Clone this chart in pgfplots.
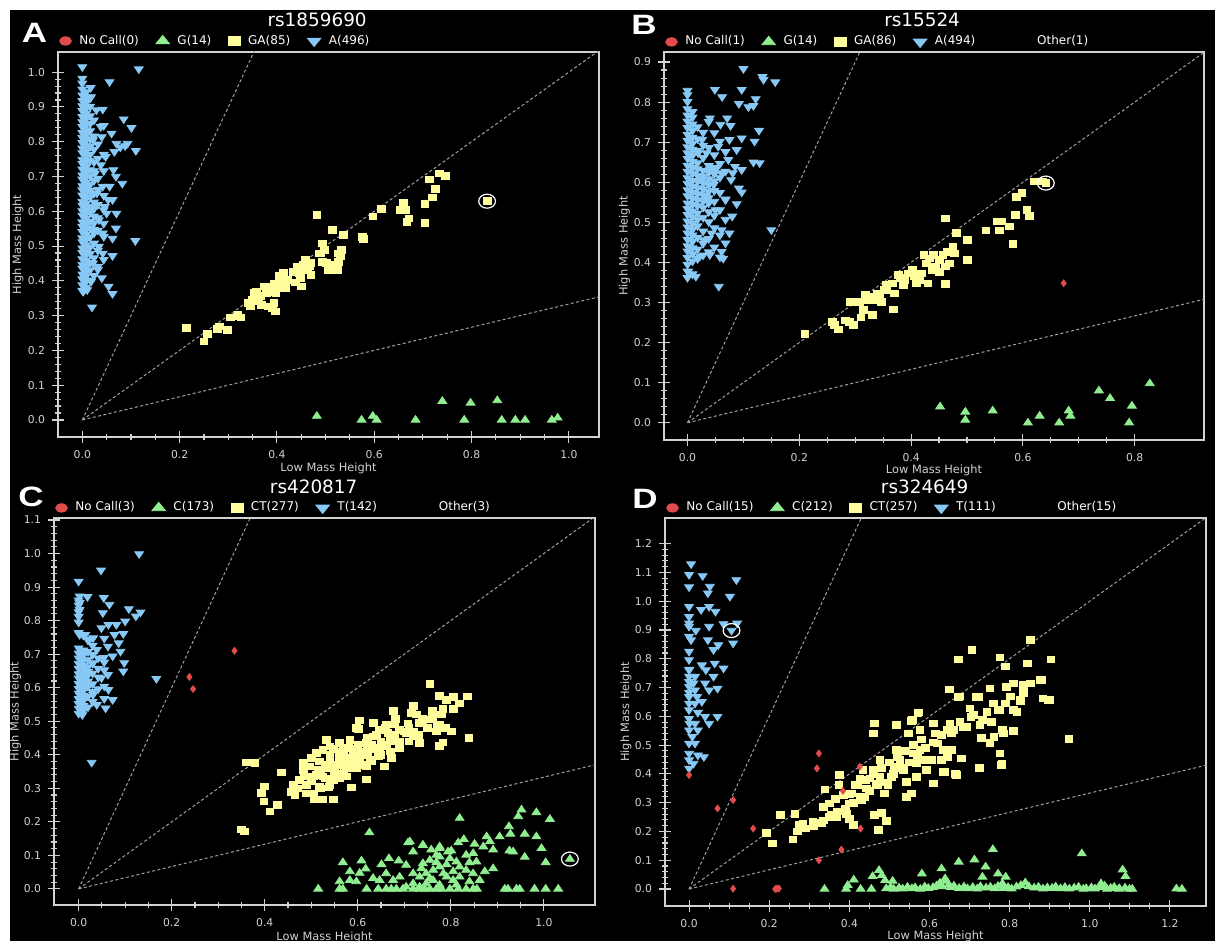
\documentclass[border=0pt]{standalone}
\usepackage{fontspec}
\setmainfont{DejaVu Sans}
\newfontfamily\letfont{Liberation Sans}
\usepackage{pgfplots}
\pgfplotsset{compat=1.18}
\definecolor{cblue}{RGB}{135,200,245}
\definecolor{cyel}{RGB}{255,253,155}
\definecolor{cgreen}{RGB}{144,238,144}
\definecolor{cred}{RGB}{225,75,75}
\definecolor{framegray}{RGB}{210,210,210}
\definecolor{dashgray}{RGB}{160,160,160}
\pgfplotsset{
 snp/.style={
  scale only axis, anchor=south west,
  axis line style={framegray, line width=0.75pt},
  tick pos=left, tick align=center,
  major tick length=6pt, minor tick length=3pt,
  tick style={framegray, line width=0.55pt},
  minor x tick num=3, minor y tick num=4,
  scaled ticks=false,
  /pgf/number format/fixed, /pgf/number format/fixed zerofill,
  /pgf/number format/precision=1, /pgf/number format/assume math mode=true,
  ticklabel style={font=\fontsize{5.4}{6}\selectfont, text=framegray},
  xlabel={Low Mass Height}, ylabel={High Mass Height},
  label style={font=\fontsize{5.7}{6}\selectfont, text=framegray},
  every axis title/.style={at={(0.5,1)}, anchor=center, font=\fontsize{9.2}{10}\selectfont, text=white},
  legend columns=-1,
  legend style={draw=none, fill=none, inner sep=0pt, outer sep=0pt, anchor=west,
    font=\fontsize{6}{7}\selectfont, text=white, nodes={inner sep=0.5pt},
    /tikz/every odd column/.append style={column sep=3.5pt},
    /tikz/every even column/.append style={column sep=8pt}},
  legend image code/.code={\draw[##1] plot coordinates {(0pt,0pt)};},
 },
 blu/.style={only marks, mark=triangle*, mark size=2.2pt, color=cblue, mark options={rotate=180, xscale=1.15}, forget plot},
 yel/.style={only marks, mark=square*, mark size=1.65pt, color=cyel, mark options={xscale=1.17}, forget plot},
 grn/.style={only marks, mark=triangle*, mark size=2.2pt, color=cgreen, mark options={xscale=1.15}, forget plot},
 rdd/.style={only marks, mark=diamond*, mark size=1.7pt, color=cred, forget plot},
 ring/.style={only marks, mark=o, mark size=3.5pt, color=white, mark options={xscale=1.2, line width=0.6pt}, forget plot},
 dl/.style={dashgray, dash pattern=on 1.5pt off 1.2pt, line width=0.5pt, forget plot},
 lgred/.style={only marks, mark=*, mark size=2.1pt, color=cred, mark options={xscale=1.4}},
 lggrn/.style={only marks, mark=triangle*, mark size=2.8pt, color=cgreen, mark options={xscale=1.4}},
 lgyel/.style={only marks, mark=square*, mark size=2.1pt, color=cyel, mark options={xscale=1.4}},
 lgblu/.style={only marks, mark=triangle*, mark size=2.8pt, color=cblue, mark options={rotate=180, xscale=1.4}},
 lgsp/.style={legend image code/.code={\path (0pt,-1pt) rectangle (18pt,1pt);}},
}
\begin{document}
\begin{tikzpicture}
\useasboundingbox (0,0) rectangle (607.5pt,471.5pt);
\fill[white] (0,0) rectangle (607.5pt,471.5pt);
\fill[black] (5pt,1pt) rectangle (607.5pt,466.5pt);

% ---------------- Panel A ----------------
\begin{axis}[snp, at={(29pt,253pt)}, width=270.5pt, height=192.5pt,
  xmin=-0.05, xmax=1.062, ymin=-0.049, ymax=1.058,
  xtick={0,0.2,0.4,0.6,0.8,1.0}, ytick={0,0.1,0.2,0.3,0.4,0.5,0.6,0.7,0.8,0.9,1.0},
  title={rs1859690}, title style={at={(axis description cs:0.479,1.083)}},
  xlabel style={at={(axis description cs:0.5,-0.0805)}, anchor=center},
  ylabel style={at={(axis description cs:-0.074,0.5)}, anchor=center},
  legend style={at={(axis description cs:0.003,1.0286)}}]
\addplot[dl] coordinates {(0,0) (2,6)};
\addplot[dl] coordinates {(0,0) (2,2)};
\addplot[dl] coordinates {(0,0) (3,1)};
\addplot[blu] coordinates {
(0,0.372)(0,0.388)(0,0.405)(0,0.419)(0,0.436)(0,0.447)(0,0.463)(0,0.481)(0,0.494)(0,0.512)(0,0.523)(0,0.541)(0,0.556)(0,0.569)(0,0.588)(0,0.601)(0,0.617)(0,0.628)(0,0.646)(0,0.661)(0,0.673)(0,0.692)(0,0.704)(0,0.721)(0,0.737)(0,0.749)(0,0.768)(0,0.781)(0,0.797)(0,0.812)(0,0.826)(0,0.843)(0,0.857)(0,0.872)(0,0.889)(0,0.903)(0,0.918)(0,0.934)(0,0.951)(0,0.968)(0,0.982)(0,1.015)
(0.008,0.381)(0.008,0.399)(0.008,0.414)(0.008,0.428)(0.008,0.442)(0.008,0.459)(0.008,0.476)(0.008,0.489)(0.008,0.503)(0.008,0.519)(0.008,0.534)(0.008,0.548)(0.008,0.563)(0.008,0.579)(0.008,0.594)(0.008,0.609)(0.008,0.623)(0.008,0.639)(0.008,0.654)(0.008,0.668)(0.008,0.683)(0.008,0.698)(0.008,0.713)(0.008,0.728)(0.008,0.742)(0.008,0.759)(0.008,0.773)(0.008,0.789)(0.008,0.805)(0.008,0.819)(0.008,0.834)(0.008,0.849)(0.008,0.866)(0.008,0.881)(0.008,0.896)(0.008,0.912)(0.008,0.928)(0.008,0.943)
(0.016,0.402)(0.016,0.431)(0.016,0.452)(0.016,0.478)(0.016,0.497)(0.016,0.526)(0.016,0.552)(0.016,0.571)(0.016,0.597)(0.016,0.613)(0.016,0.641)(0.016,0.659)(0.016,0.677)(0.016,0.701)(0.016,0.719)(0.016,0.746)(0.016,0.763)(0.016,0.786)(0.016,0.808)(0.016,0.831)(0.016,0.852)(0.016,0.874)(0.016,0.901)(0.016,0.925)
(0.024,0.415)(0.024,0.466)(0.024,0.508)(0.024,0.537)(0.024,0.566)(0.024,0.586)(0.024,0.607)(0.024,0.626)(0.024,0.651)(0.024,0.688)(0.024,0.716)(0.024,0.741)(0.024,0.778)(0.024,0.816)(0.024,0.862)
(0.032,0.432)(0.032,0.487)(0.032,0.545)(0.032,0.581)(0.032,0.619)(0.032,0.663)(0.032,0.694)(0.032,0.752)(0.032,0.793)
(0.044,0.461)(0.044,0.527)(0.044,0.565)(0.044,0.604)(0.044,0.645)(0.044,0.716)(0.044,0.763)(0.044,0.846)
(0.116,1.009)(0.056,0.972)(0.017,0.955)(0.042,0.893)(0.085,0.865)(0.101,0.840)(0.060,0.824)(0.040,0.814)(0.070,0.795)(0.093,0.795)(0.110,0.774)(0.078,0.784)(0.066,0.771)(0.088,0.788)(0.048,0.757)(0.038,0.733)(0.064,0.719)(0.069,0.700)(0.082,0.680)(0.056,0.671)(0.062,0.633)(0.046,0.613)(0.070,0.594)(0.069,0.551)(0.042,0.537)(0.062,0.522)(0.109,0.515)(0.034,0.499)(0.062,0.472)(0.042,0.479)(0.022,0.451)(0.032,0.441)(0.054,0.384)(0.062,0.363)(0.040,0.408)(0.018,0.398)(0.020,0.324)(0.002,0.369)(0.010,0.374)(0.030,0.652)(0.026,0.709)(0.050,0.594)(0.042,0.671)(0.053,0.633)(0.034,0.575)(0.024,0.548)(0.022,0.805)(0.038,0.843)(0.029,0.891)(0.018,0.929)
};
\addplot[yel] coordinates {
(0.214,0.264)(0.250,0.226)(0.257,0.248)(0.278,0.261)(0.282,0.269)(0.298,0.259)(0.305,0.295)(0.318,0.298)(0.320,0.304)(0.326,0.295)(0.342,0.336)(0.346,0.326)(0.349,0.345)(0.354,0.365)(0.358,0.369)(0.362,0.341)(0.366,0.357)(0.368,0.331)(0.374,0.384)(0.378,0.365)(0.382,0.326)(0.384,0.384)(0.390,0.322)(0.390,0.369)(0.394,0.393)(0.394,0.336)(0.397,0.312)(0.398,0.365)(0.402,0.379)(0.405,0.414)(0.408,0.400)(0.413,0.424)(0.418,0.379)(0.422,0.403)(0.434,0.426)(0.438,0.395)(0.442,0.441)(0.446,0.422)(0.448,0.408)(0.450,0.384)(0.454,0.446)(0.458,0.460)(0.462,0.432)(0.466,0.441)(0.470,0.417)(0.470,0.451)(0.482,0.589)(0.486,0.479)(0.490,0.479)(0.493,0.455)(0.494,0.508)(0.498,0.489)(0.502,0.451)(0.506,0.432)(0.510,0.446)(0.514,0.546)(0.525,0.432)(0.526,0.455)(0.526,0.479)(0.530,0.470)(0.532,0.489)(0.536,0.532)(0.576,0.527)(0.578,0.520)(0.597,0.585)(0.614,0.606)(0.654,0.604)(0.660,0.625)(0.664,0.604)(0.667,0.570)(0.671,0.580)(0.704,0.566)(0.704,0.621)(0.713,0.692)(0.720,0.640)(0.726,0.664)(0.734,0.709)(0.746,0.701)(0.832,0.629)
};
\addplot[grn] coordinates {
(0.482,0.011)(0.574,0)(0.597,0.011)(0.605,0)(0.685,0)(0.740,0.054)(0.785,0)(0.798,0.049)(0.853,0.056)(0.862,0)(0.890,0)(0.910,0)(0.965,0)(0.977,0.006)
};
\addplot[ring] coordinates {(0.832,0.629)};
\addlegendimage{lgred}\addlegendentry{No Call(0)}
\addlegendimage{lggrn}\addlegendentry{G(14)}
\addlegendimage{lgyel}\addlegendentry{GA(85)}
\addlegendimage{lgblu}\addlegendentry{A(496)}
\end{axis}

% ---------------- Panel B ----------------
\begin{axis}[snp, at={(332pt,251.5pt)}, width=270pt, height=194pt,
  xmin=-0.042, xmax=0.924, ymin=-0.043, ymax=0.925,
  xtick={0,0.2,0.4,0.6,0.8}, ytick={0,0.1,0.2,0.3,0.4,0.5,0.6,0.7,0.8,0.9},
  title={rs15524}, title style={at={(axis description cs:0.478,1.082)}},
  xlabel style={at={(axis description cs:0.5,-0.077)}, anchor=center},
  ylabel style={at={(axis description cs:-0.073,0.5)}, anchor=center},
  legend style={at={(axis description cs:0.003,1.026)}}]
\addplot[dl] coordinates {(0,0) (2,6)};
\addplot[dl] coordinates {(0,0) (2,2)};
\addplot[dl] coordinates {(0,0) (3,1)};
\addplot[blu] coordinates {
(0,0.362)(0,0.378)(0,0.395)(0,0.412)(0,0.428)(0,0.441)(0,0.457)(0,0.473)(0,0.488)(0,0.503)(0,0.519)(0,0.534)(0,0.548)(0,0.566)(0,0.581)(0,0.597)(0,0.611)(0,0.627)(0,0.642)(0,0.659)(0,0.673)(0,0.688)(0,0.704)(0,0.719)(0,0.736)(0,0.752)(0,0.767)(0,0.783)(0,0.801)(0,0.818)(0,0.829)
(0.009,0.371)(0.009,0.403)(0.009,0.421)(0.009,0.436)(0.009,0.452)(0.009,0.468)(0.009,0.482)(0.009,0.497)(0.009,0.513)(0.009,0.528)(0.009,0.544)(0.009,0.559)(0.009,0.574)(0.009,0.589)(0.009,0.604)(0.009,0.621)(0.009,0.636)(0.009,0.651)(0.009,0.667)(0.009,0.682)(0.009,0.697)(0.009,0.712)(0.009,0.729)(0.009,0.745)(0.009,0.762)(0.009,0.776)
(0.018,0.409)(0.018,0.433)(0.018,0.462)(0.018,0.491)(0.018,0.507)(0.018,0.523)(0.018,0.541)(0.018,0.556)(0.018,0.571)(0.018,0.586)(0.018,0.602)(0.018,0.617)(0.018,0.633)(0.018,0.648)(0.018,0.679)(0.018,0.708)(0.018,0.738)
(0.028,0.418)(0.028,0.447)(0.028,0.478)(0.028,0.512)(0.028,0.537)(0.028,0.553)(0.028,0.568)(0.028,0.583)(0.028,0.598)(0.028,0.614)(0.028,0.629)(0.028,0.661)(0.028,0.692)(0.028,0.724)
(0.038,0.426)(0.038,0.459)(0.038,0.501)(0.038,0.526)(0.038,0.548)(0.038,0.561)(0.038,0.577)(0.038,0.593)(0.038,0.608)(0.038,0.624)(0.038,0.641)(0.038,0.686)(0.038,0.751)
(0.048,0.438)(0.048,0.486)(0.048,0.517)(0.048,0.552)(0.048,0.579)(0.048,0.603)(0.048,0.621)(0.048,0.637)(0.048,0.668)
(0.058,0.413)(0.058,0.468)(0.058,0.531)(0.058,0.574)(0.058,0.612)(0.058,0.646)(0.058,0.702)
(0.068,0.448)(0.068,0.507)(0.068,0.558)(0.068,0.627)(0.068,0.676)
(0.100,0.883)(0.134,0.863)(0.136,0.856)(0.157,0.850)(0.049,0.831)(0.062,0.813)(0.097,0.831)(0.092,0.796)(0.109,0.788)(0.122,0.808)(0.118,0.791)(0.059,0.744)(0.077,0.741)(0.097,0.710)(0.120,0.702)(0.128,0.729)(0.129,0.648)(0.118,0.650)(0.092,0.585)(0.097,0.575)(0.088,0.546)(0.150,0.481)(0.056,0.340)(0.015,0.365)(0.001,0.377)(0.040,0.760)(0.026,0.706)(0.034,0.673)(0.055,0.689)(0.073,0.656)(0.081,0.623)(0.061,0.623)(0.047,0.594)(0.068,0.556)(0.080,0.515)(0.061,0.481)(0.075,0.473)(0.043,0.473)(0.061,0.427)(0.040,0.419)(0.022,0.415)(0.064,0.410)(0.029,0.456)(0.050,0.531)(0.033,0.565)(0.040,0.631)(0.026,0.606)(0.052,0.635)(0.075,0.706)(0.071,0.760)(0.019,0.673)(0.088,0.681)(0.048,0.723)(0.097,0.631)(0.085,0.639)(0.078,0.606)
};
\addplot[yel] coordinates {
(0.210,0.221)(0.259,0.252)(0.263,0.244)(0.270,0.233)(0.282,0.255)(0.289,0.252)(0.297,0.244)(0.292,0.302)(0.308,0.302)(0.310,0.263)(0.315,0.281)(0.318,0.319)(0.322,0.306)(0.331,0.269)(0.329,0.315)(0.336,0.306)(0.339,0.323)(0.343,0.311)(0.347,0.302)(0.352,0.331)(0.356,0.344)(0.356,0.331)(0.368,0.283)(0.370,0.323)(0.367,0.348)(0.377,0.369)(0.381,0.361)(0.386,0.344)(0.388,0.356)(0.395,0.373)(0.402,0.381)(0.405,0.365)(0.409,0.348)(0.416,0.356)(0.419,0.373)(0.423,0.419)(0.430,0.348)(0.428,0.398)(0.433,0.410)(0.437,0.381)(0.440,0.419)(0.443,0.390)(0.450,0.406)(0.450,0.377)(0.457,0.419)(0.461,0.390)(0.464,0.427)(0.468,0.398)(0.475,0.440)(0.478,0.423)(0.461,0.510)(0.461,0.346)(0.481,0.473)(0.501,0.456)(0.501,0.406)(0.534,0.480)(0.555,0.502)(0.562,0.502)(0.558,0.480)(0.576,0.490)(0.582,0.446)(0.586,0.519)(0.588,0.563)(0.598,0.573)(0.607,0.531)(0.611,0.516)(0.620,0.602)(0.635,0.602)(0.641,0.598)
};
\addplot[grn] coordinates {
(0.452,0.040)(0.497,0.027)(0.497,0.007)(0.546,0.030)(0.609,0)(0.630,0.017)(0.665,0)(0.682,0.030)(0.685,0.017)(0.736,0.080)(0.756,0.061)(0.790,0)(0.795,0.042)(0.827,0.098)
};
\addplot[rdd] coordinates {(0.673,0.348)};
\addplot[ring] coordinates {(0.641,0.598)};
\addlegendimage{lgred}\addlegendentry{No Call(1)}
\addlegendimage{lggrn}\addlegendentry{G(14)}
\addlegendimage{lgyel}\addlegendentry{GA(86)}
\addlegendimage{lgblu}\addlegendentry{A(494)}
\addlegendimage{lgsp}\addlegendentry{Other(1)}
\end{axis}

% ---------------- Panel C ----------------
\begin{axis}[snp, at={(27pt,19pt)}, width=270.5pt, height=193.5pt,
  xmin=-0.053, xmax=1.11, ymin=-0.048, ymax=1.106,
  xtick={0,0.2,0.4,0.6,0.8,1.0}, ytick={0,0.1,0.2,0.3,0.4,0.5,0.6,0.7,0.8,0.9,1.0,1.1},
  title={rs420817}, title style={at={(axis description cs:0.48,1.080)}},
  xlabel style={at={(axis description cs:0.5,-0.083)}, anchor=center},
  ylabel style={at={(axis description cs:-0.071,0.5)}, anchor=center},
  legend style={at={(axis description cs:0.003,1.026)}}]
\addplot[dl] coordinates {(0,0) (2,6)};
\addplot[dl] coordinates {(0,0) (2,2)};
\addplot[dl] coordinates {(0,0) (3,1)};
\addplot[blu] coordinates {
(0,0.523)(0,0.538)(0,0.552)(0,0.567)(0,0.583)(0,0.597)(0,0.612)(0,0.628)(0,0.641)(0,0.657)(0,0.672)(0,0.688)(0,0.703)(0,0.718)(0,0.764)(0,0.795)(0,0.812)(0,0.826)(0,0.846)(0,0.861)(0,0.917)
(0.010,0.531)(0.010,0.546)(0.010,0.561)(0.010,0.577)(0.010,0.591)(0.010,0.606)(0.010,0.621)(0.010,0.636)(0.010,0.651)(0.010,0.666)(0.010,0.681)(0.010,0.697)(0.010,0.712)(0.010,0.756)
(0.020,0.542)(0.020,0.574)(0.020,0.603)(0.020,0.619)(0.020,0.648)(0.020,0.662)(0.020,0.684)(0.020,0.707)(0.020,0.741)
(0.030,0.558)(0.030,0.588)(0.030,0.611)(0.030,0.643)(0.030,0.672)(0.030,0.698)(0.030,0.726)
(0.042,0.596)(0.042,0.631)(0.042,0.657)(0.042,0.688)(0.055,0.567)(0.055,0.604)(0.055,0.653)(0.055,0.676)(0.055,0.747)
(0.130,0.999)(0.048,0.950)(0.019,0.871)(0.054,0.868)(0.066,0.848)(0.052,0.823)(0.108,0.835)(0.123,0.813)(0.133,0.825)(0.100,0.798)(0.081,0.788)(0.096,0.761)(0.086,0.733)(0.090,0.708)(0.098,0.674)(0.096,0.649)(0.167,0.627)(0.028,0.377)(0.008,0.519)(0.058,0.539)(0.039,0.549)(0.064,0.594)(0.073,0.564)(0.031,0.579)(0.002,0.564)(0.018,0.634)(0.049,0.629)(0.063,0.639)(0.031,0.674)(0.054,0.689)(0.073,0.694)(0.039,0.713)(0.063,0.723)(0.077,0.758)(0.031,0.748)(0.049,0.778)(0.064,0.788)(0.002,0.758)(0.014,0.758)(0.002,0.853)(0.002,0.833)(0.002,0.873)(0.023,0.743)
};
\addplot[yel] coordinates {
(0.755,0.612)(0.776,0.576)(0.791,0.564)(0.806,0.572)(0.835,0.574)(0.818,0.553)(0.783,0.537)(0.805,0.537)(0.720,0.546)(0.676,0.530)(0.715,0.525)(0.726,0.520)(0.739,0.507)(0.760,0.530)(0.681,0.507)(0.758,0.505)(0.775,0.490)(0.789,0.480)(0.801,0.470)(0.769,0.470)(0.839,0.450)(0.783,0.437)(0.775,0.427)(0.604,0.503)(0.601,0.477)(0.647,0.475)(0.665,0.465)(0.708,0.493)(0.733,0.495)(0.690,0.475)(0.704,0.465)(0.719,0.455)(0.733,0.435)(0.676,0.440)(0.662,0.425)(0.647,0.405)(0.633,0.455)(0.619,0.435)(0.583,0.445)(0.561,0.435)(0.533,0.445)(0.594,0.418)(0.569,0.415)(0.547,0.418)(0.525,0.415)(0.511,0.405)(0.500,0.390)(0.518,0.380)(0.540,0.385)(0.561,0.395)(0.583,0.385)(0.604,0.390)(0.626,0.385)(0.644,0.395)(0.658,0.365)(0.673,0.390)(0.619,0.365)(0.597,0.360)(0.576,0.365)(0.554,0.370)(0.533,0.360)(0.515,0.355)(0.497,0.365)(0.483,0.355)(0.486,0.335)(0.504,0.335)(0.525,0.335)(0.547,0.325)(0.561,0.345)(0.576,0.335)(0.619,0.327)(0.586,0.303)(0.474,0.325)(0.461,0.310)(0.458,0.290)(0.465,0.280)(0.490,0.285)(0.504,0.285)(0.518,0.305)(0.538,0.305)(0.436,0.347)(0.400,0.306)(0.393,0.286)(0.398,0.261)(0.428,0.251)(0.411,0.231)(0.507,0.267)(0.525,0.267)(0.547,0.267)(0.483,0.375)(0.597,0.480)(0.633,0.495)(0.662,0.490)(0.540,0.425)(0.633,0.418)(0.361,0.377)(0.379,0.375)(0.350,0.178)(0.357,0.171)
(0.52,0.35)(0.53,0.37)(0.55,0.36)(0.56,0.38)(0.57,0.37)(0.58,0.39)(0.59,0.40)(0.60,0.40)(0.61,0.41)(0.62,0.42)(0.63,0.43)(0.64,0.42)(0.65,0.44)(0.66,0.43)(0.67,0.45)(0.68,0.46)(0.69,0.44)(0.70,0.47)(0.71,0.48)(0.72,0.47)(0.54,0.40)(0.56,0.41)(0.58,0.42)(0.60,0.43)(0.62,0.45)(0.64,0.46)(0.66,0.48)(0.68,0.49)(0.53,0.33)(0.55,0.34)(0.57,0.35)(0.59,0.36)(0.61,0.37)(0.63,0.38)(0.65,0.40)(0.67,0.41)(0.69,0.42)(0.71,0.44)(0.73,0.46)(0.75,0.48)(0.74,0.50)(0.76,0.51)(0.78,0.52)(0.77,0.49)(0.50,0.32)(0.51,0.34)(0.49,0.31)(0.47,0.30)(0.62,0.40)(0.60,0.38)(0.58,0.36)(0.56,0.33)(0.54,0.31)(0.52,0.30)
};
\addplot[grn] coordinates {
(0.515,0)(0.561,0)(0.568,0)(0.619,0)(0.644,0)(0.661,0)(0.672,0)(0.683,0)(0.697,0)(0.719,0)(0.733,0)(0.744,0)(0.755,0)(0.769,0)(0.780,0)(0.798,0)(0.816,0)(0.833,0)(0.848,0)(0.856,0)(0.916,0)(0.923,0)(0.941,0)(0.948,0)(0.980,0)(1.004,0)(1.031,0)
(0.819,0.211)(0.625,0.168)(0.952,0.236)(0.984,0.228)(0.945,0.216)(1.013,0.208)(0.925,0.186)(0.959,0.164)(0.984,0.156)(0.928,0.164)(0.905,0.156)(0.877,0.156)(0.884,0.141)(0.851,0.134)(0.828,0.148)(0.816,0.138)(0.712,0.141)(0.740,0.131)(0.776,0.126)(0.801,0.114)(0.995,0.121)(0.926,0.114)(0.934,0.111)(0.959,0.095)(1.004,0.079)(1.056,0.089)
(0.568,0.079)(0.608,0.084)(0.583,0.052)(0.604,0.047)(0.561,0.022)(0.617,0.060)(0.651,0.073)(0.667,0.091)(0.688,0.084)(0.708,0.138)(0.719,0.111)(0.740,0.130)(0.758,0.117)(0.776,0.121)(0.776,0.096)(0.798,0.091)(0.812,0.081)(0.833,0.101)(0.840,0.079)(0.855,0.081)(0.873,0.052)(0.891,0.061)(0.840,0.022)(0.819,0.036)(0.805,0.052)(0.791,0.036)(0.776,0.066)(0.762,0.056)(0.747,0.046)(0.733,0.036)(0.719,0.046)(0.704,0.071)(0.690,0.036)(0.676,0.026)(0.661,0.046)(0.647,0.026)(0.633,0.032)(0.597,0.022)(0.583,0.026)(0.747,0.016)(0.762,0.026)(0.733,0.006)(0.776,0.012)(0.740,0.076)(0.755,0.086)(0.769,0.079)(0.791,0.073)(0.819,0.066)(0.848,0.106)(0.870,0.126)(0.891,0.117)(0.812,0.012)(0.719,0.016)(0.704,0.006)(0.805,0.026)(0.784,0.046)(0.755,0.032)(0.737,0.061)(0.769,0.101)(0.794,0.111)(0.848,0.046)(0.833,0.056)(0.862,0.026)
};
\addplot[rdd] coordinates {(0.335,0.710)(0.238,0.632)(0.246,0.596)};
\addplot[ring] coordinates {(1.056,0.089)};
\addlegendimage{lgred}\addlegendentry{No Call(3)}
\addlegendimage{lggrn}\addlegendentry{C(173)}
\addlegendimage{lgyel}\addlegendentry{CT(277)}
\addlegendimage{lgblu}\addlegendentry{T(142)}
\addlegendimage{lgsp}\addlegendentry{Other(3)}
\end{axis}

% ---------------- Panel D ----------------
\begin{axis}[snp, at={(332.5pt,18.5pt)}, width=270.5pt, height=194pt,
  xmin=-0.06, xmax=1.29, ymin=-0.059, ymax=1.289,
  xtick={0,0.2,0.4,0.6,0.8,1.0,1.2}, ytick={0,0.1,0.2,0.3,0.4,0.5,0.6,0.7,0.8,0.9,1.0,1.1,1.2},
  title={rs324649}, title style={at={(axis description cs:0.48,1.080)}},
  xlabel style={at={(axis description cs:0.5,-0.077)}, anchor=center},
  ylabel style={at={(axis description cs:-0.072,0.5)}, anchor=center},
  legend style={at={(axis description cs:0.003,1.026)}}]
\addplot[dl] coordinates {(0,0) (2,6)};
\addplot[dl] coordinates {(0,0) (2,2)};
\addplot[dl] coordinates {(0,0) (3,1)};
\addplot[blu] coordinates {
(0.005,1.129)(0,1.092)(0.034,1.088)(0.118,1.074)(0,1.049)(0.052,1.051)(0.047,1.028)(0.102,1.016)(0,0.981)(0.030,0.970)(0.050,0.981)(0.066,0.964)(0,0.923)(0.017,0.898)(0.050,0.912)(0.086,0.921)(0.120,0.923)(0.106,0.898)(0.110,0.854)(0.005,0.865)(0.047,0.865)(0.073,0.848)(0.061,0.831)(0,0.825)(0.032,0.778)(0.064,0.784)(0.086,0.767)(0.042,0.761)(0.001,0.763)(0.061,0.738)(0.011,0.715)(0.040,0.715)(0.071,0.697)(0.020,0.668)(0.032,0.651)(0.050,0.691)(0,0.645)(0.071,0.599)(0.050,0.575)(0.040,0.599)(0.022,0.613)(0.001,0.575)(0.022,0.552)(0.008,0.529)(0,0.506)(0,0.471)(0.022,0.465)(0.037,0.459)(0.011,0.436)(0,0.419)
(0,0.703)(0,0.668)(0,0.622)(0,0.552)(0,0.738)(0,0.761)(0,0.796)(0,0.877)(0,0.912)(0,0.946)(0,0.448)(0,0.592)(0,0.683)(0,0.720)
(0.015,0.645)(0.015,0.691)(0.015,0.738)(0.015,0.575)(0.015,0.506)
};
\addplot[yel] coordinates {
(0.851,0.865)(0.706,0.831)(0.673,0.798)(0.776,0.805)(0.790,0.773)(0.845,0.784)(0.903,0.798)(0.808,0.715)(0.835,0.709)(0.877,0.726)(0.897,0.657)(0.883,0.662)(0.751,0.697)(0.722,0.668)(0.716,0.668)(0.672,0.668)(0.650,0.694)(0.948,0.521)(0.827,0.654)(0.790,0.645)(0.771,0.622)(0.810,0.622)(0.732,0.587)(0.703,0.599)(0.683,0.564)(0.644,0.552)(0.615,0.541)(0.571,0.610)(0.557,0.587)(0.518,0.570)(0.462,0.575)(0.460,0.541)(0.785,0.541)(0.761,0.529)(0.776,0.471)(0.781,0.436)(0.725,0.421)(0.664,0.399)(0.635,0.407)(0.644,0.459)(0.605,0.448)(0.620,0.506)
(0.193,0.195)(0.208,0.158)(0.259,0.172)(0.228,0.257)(0.264,0.260)(0.274,0.222)(0.284,0.228)(0.309,0.233)(0.335,0.238)(0.355,0.257)(0.369,0.250)(0.401,0.244)(0.411,0.222)(0.463,0.257)(0.480,0.265)(0.493,0.237)(0.472,0.206)(0.339,0.346)(0.351,0.297)(0.366,0.314)(0.374,0.361)(0.385,0.326)(0.401,0.297)(0.405,0.332)(0.414,0.361)(0.426,0.384)(0.438,0.320)(0.443,0.350)(0.451,0.384)(0.459,0.413)(0.468,0.367)(0.476,0.390)(0.488,0.332)(0.496,0.361)(0.505,0.390)(0.513,0.425)(0.526,0.448)(0.534,0.413)(0.543,0.372)(0.555,0.332)(0.543,0.320)(0.559,0.471)(0.567,0.436)(0.576,0.483)(0.584,0.448)(0.592,0.413)(0.567,0.390)(0.547,0.541)(0.576,0.552)(0.463,0.576)(0.572,0.613)(0.555,0.585)(0.609,0.576)(0.630,0.536)(0.651,0.576)(0.659,0.552)(0.676,0.581)(0.693,0.564)(0.709,0.605)(0.701,0.628)(0.726,0.570)(0.743,0.616)(0.760,0.645)(0.776,0.622)(0.755,0.581)(0.730,0.524)(0.751,0.507)(0.776,0.471)(0.780,0.431)(0.726,0.419)(0.680,0.454)(0.667,0.396)(0.638,0.407)(0.655,0.483)(0.630,0.448)(0.609,0.367)(0.634,0.483)(0.655,0.541)(0.676,0.669)(0.718,0.669)(0.792,0.703)(0.809,0.715)(0.801,0.669)(0.818,0.616)(0.834,0.681)(0.851,0.715)(0.826,0.657)(0.880,0.727)(0.900,0.657)(0.782,0.552)(0.810,0.549)
(0.335,0.285)(0.376,0.396)(0.434,0.413)(0.476,0.448)(0.518,0.483)(0.426,0.320)(0.393,0.262)
(0.40,0.33)(0.42,0.36)(0.44,0.38)(0.46,0.40)(0.48,0.42)(0.50,0.44)(0.52,0.46)(0.54,0.48)(0.56,0.50)(0.58,0.52)(0.43,0.31)(0.45,0.34)(0.47,0.36)(0.49,0.37)(0.51,0.40)(0.53,0.42)(0.55,0.44)(0.57,0.46)(0.59,0.49)(0.61,0.51)(0.39,0.28)(0.41,0.30)(0.37,0.27)(0.35,0.25)(0.33,0.23)(0.31,0.22)(0.29,0.21)(0.27,0.20)
};
\addplot[grn] coordinates {
(0.338,0)(0.392,0)(0.396,0.013)(0.411,0.032)(0.428,0)(0.455,0)(0.458,0.044)(0.474,0.065)(0.481,0.048)(0.508,0.028)(0.489,0.030)(0.581,0.053)(0.630,0.071)(0.639,0.036)(0.673,0.094)(0.712,0.102)(0.740,0.077)(0.758,0.138)(0.732,0.042)(0.771,0.053)(0.790,0.042)(0.782,0.019)(0.980,0.123)(1.082,0.067)(1.089,0.044)(1.216,0.001)(1.230,0)(1.106,0)(1.072,0)(1.043,0)(1.028,0.019)(0.984,0)
(0.492,0.002)(0.503,0.006)(0.511,0)(0.524,0.004)(0.533,0.001)(0.545,0.007)(0.556,0.002)(0.564,0.005)(0.577,0)(0.588,0.008)(0.597,0.003)(0.609,0.006)(0.618,0.012)(0.626,0.021)(0.631,0.009)(0.642,0.028)(0.648,0.014)(0.653,0.006)(0.661,0.011)(0.674,0.003)(0.686,0.008)(0.695,0.002)(0.708,0.006)(0.719,0.001)(0.727,0.009)(0.741,0.004)(0.752,0.007)(0.763,0.002)(0.771,0.010)(0.784,0.003)(0.796,0.006)(0.805,0.001)(0.817,0.008)(0.828,0.013)(0.839,0.022)(0.848,0.009)(0.861,0.004)(0.872,0.007)(0.883,0.001)(0.894,0.005)(0.906,0.003)(0.915,0.008)(0.927,0.002)(0.938,0.006)(0.949,0.001)(0.961,0.004)(0.972,0.007)(0.991,0.002)(1.004,0.005)(1.013,0.001)(1.026,0.006)(1.037,0.011)(1.052,0.003)(1.061,0.007)(1.074,0.002)(1.088,0.004)(1.099,0)
};
\addplot[rdd] coordinates {
(0,0.396)(0.071,0.280)(0.110,0.309)(0.160,0.210)(0.110,0.001)(0.219,0.001)(0.224,0.002)(0.324,0.471)(0.319,0.419)(0.426,0.425)(0.384,0.341)(0.428,0.210)(0.324,0.100)(0.380,0.137)(0.215,0.0)
};
\addplot[ring] coordinates {(0.106,0.898)};
\addlegendimage{lgred}\addlegendentry{No Call(15)}
\addlegendimage{lggrn}\addlegendentry{C(212)}
\addlegendimage{lgyel}\addlegendentry{CT(257)}
\addlegendimage{lgblu}\addlegendentry{T(111)}
\addlegendimage{lgsp}\addlegendentry{Other(15)}
\end{axis}

% panel letters
\node[text=white, font=\letfont\bfseries\fontsize{14}{14}\selectfont, xscale=1.25] at (17.25pt,455pt) {A};
\node[text=white, font=\letfont\bfseries\fontsize{14}{14}\selectfont, xscale=1.25] at (322pt,459pt) {B};
\node[text=white, font=\letfont\bfseries\fontsize{14}{14}\selectfont, xscale=1.25] at (15.5pt,223pt) {C};
\node[text=white, font=\letfont\bfseries\fontsize{14}{14}\selectfont, xscale=1.25] at (322.5pt,222pt) {D};
\end{tikzpicture}
\end{document}
